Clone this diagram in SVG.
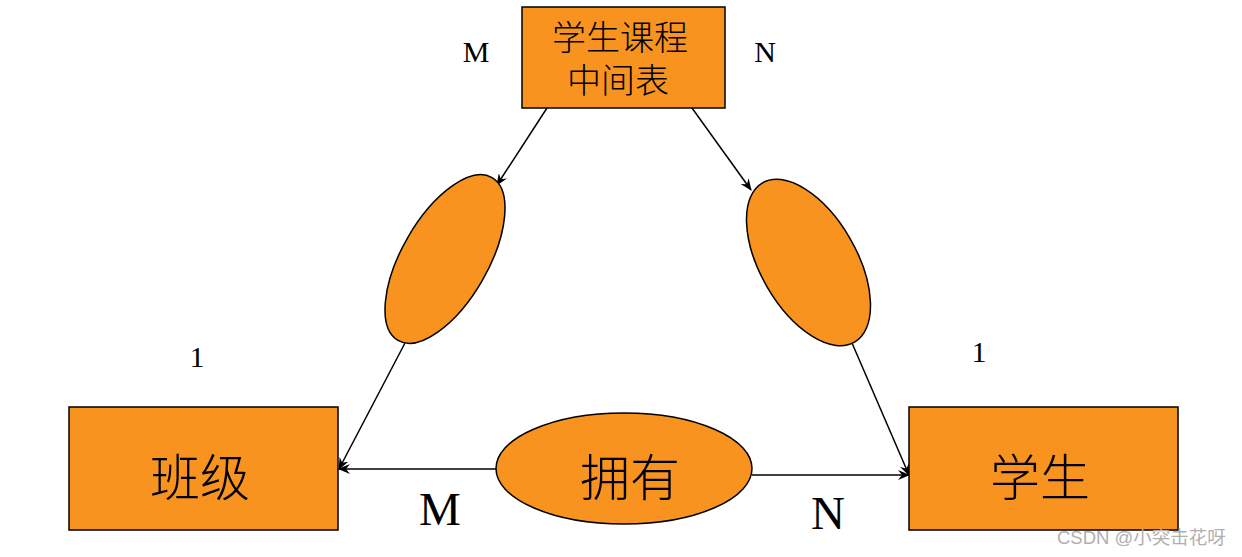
<svg xmlns="http://www.w3.org/2000/svg" width="1242" height="557" viewBox="0 0 1242 557">
<style>
.box{fill:#F7931E;stroke:#000;stroke-width:1.5}
.ell{fill:#F7931E;stroke:#000;stroke-width:1.5}
.ln{stroke:#000;stroke-width:1.5;fill:none;marker-end:url(#arr)}
.cn{font-family:"Liberation Serif","Noto Sans CJK SC",serif;fill:#000;text-anchor:middle;font-weight:300}
.lt{font-family:"Liberation Serif",serif;fill:#000;text-anchor:middle}
</style>
<defs>
<marker id="arr" viewBox="0 0 12 10" refX="11" refY="5" markerWidth="12" markerHeight="10" markerUnits="userSpaceOnUse" orient="auto">
<path d="M0,0 L12,5 L0,10 L4,5 Z" fill="#000"/>
</marker>
</defs>
<rect width="1242" height="557" fill="#fff"/>
<g id="connectors">
<line class="ln" x1="547" y1="108" x2="497" y2="185"/>
<line class="ln" x1="405" y1="343" x2="339" y2="469"/>
<line class="ln" x1="692" y1="108" x2="751" y2="190"/>
<line class="ln" x1="852" y1="343" x2="909" y2="475"/>
<line class="ln" x1="496" y1="469" x2="339" y2="469"/>
<line class="ln" x1="752" y1="475" x2="909" y2="475"/>
</g>
<g id="node-mid">
<rect class="box" x="522" y="7" width="203" height="101"/>
<text class="cn" x="620" y="50" font-size="34">学生课程</text>
<text class="cn" x="618" y="93" font-size="34">中间表</text>
</g>
<g id="node-rel-left">
<ellipse class="ell" cx="445" cy="259" rx="94" ry="43" transform="rotate(-60 445 259)"/>
</g>
<g id="node-rel-right">
<ellipse class="ell" cx="808.5" cy="262.5" rx="92" ry="48" transform="rotate(60 808.5 262.5)"/>
</g>
<g id="node-class">
<rect class="box" x="69" y="407" width="269" height="123"/>
<text class="cn" x="200" y="496" font-size="50">班级</text>
</g>
<g id="node-student">
<rect class="box" x="909" y="407" width="269" height="123"/>
<text class="cn" x="1040" y="496" font-size="50">学生</text>
</g>
<g id="node-have">
<ellipse class="ell" cx="624" cy="468.5" rx="128" ry="55.5"/>
<text class="cn" x="630" y="496" font-size="50">拥有</text>
</g>
<g id="labels">
<text class="lt" x="476" y="62" font-size="30">M</text>
<text class="lt" x="765" y="62" font-size="30">N</text>
<text class="lt" x="197" y="367" font-size="30">1</text>
<text class="lt" x="979" y="362" font-size="30">1</text>
<text class="lt" x="440" y="525" font-size="47">M</text>
<text class="lt" x="828" y="529" font-size="47">N</text>
</g>
<text x="1057" y="544" font-family="'Liberation Sans','Noto Sans CJK SC',sans-serif" font-size="18.5" fill="#b0b0b0">CSDN @小突击花呀</text>
</svg>
